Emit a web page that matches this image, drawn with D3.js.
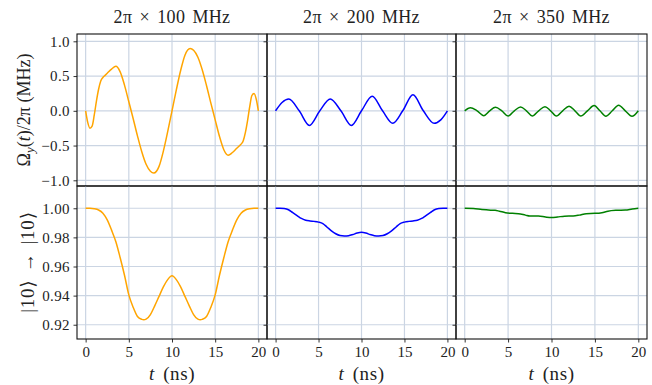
<!DOCTYPE html>
<html><head><meta charset="utf-8">
<script src="https://cdn.jsdelivr.net/npm/d3@7"></script>
<style>body{margin:0;background:#fff}svg{display:block}</style>
</head><body>
<script>
// ---------------- data ----------------
const columnTitles = ["100", "200", "350"];          // drive frequency 2π × … MHz
const timeTicks = [0, 5, 10, 15, 20];
const omegaTicks = [-1.0, -0.5, 0.0, 0.5, 1.0];
const fidelityTicks = [0.92, 0.94, 0.96, 0.98, 1.00];

// Ω_y(t)/2π (MHz), 2π×100 MHz
const omega100T = [0,0.25,0.5,0.75,1,1.25,1.5,1.75,2,2.25,2.5,3,3.5,4,4.5,5,5.5,6,6.5,7,7.5,7.9,8.5,9,9.5,10,
  10.5,11,11.5,12.1,12.5,13,13.5,14,14.5,15,15.5,16,16.5,17,17.5,17.75,18,18.25,18.5,18.75,19,19.25,19.5,19.75,20];
const omega100V = [0,-0.17,-0.25,-0.22,-0.06,0.14,0.31,0.43,0.48,0.51,0.54,0.60,0.64,0.56,0.37,0.13,-0.11,-0.36,-0.59,-0.77,-0.87,-0.895,-0.80,-0.58,-0.30,0,
  0.30,0.58,0.80,0.895,0.87,0.77,0.59,0.36,0.11,-0.13,-0.37,-0.56,-0.64,-0.60,-0.54,-0.51,-0.48,-0.43,-0.31,-0.14,0.06,0.22,0.25,0.17,0];

// 2π×200 MHz
const omega200T = [0,0.75,1.54,2.75,3.93,5.15,6.36,7.6,8.82,10.0,11.25,12.45,13.64,14.8,15.99,17.2,18.46,19.23,20];
const omega200V = [0,0.12,0.17,0,-0.21,0,0.17,0,-0.21,0,0.21,0,-0.18,0,0.23,0,-0.18,-0.13,0];

// 2π×350 MHz
const omega350T = [0,0.66,1.43,2.2,2.88,3.55,4.28,5.0,5.72,6.44,7.11,7.78,8.52,9.25,9.9,10.56,11.29,12.02,12.7,13.37,14.14,14.91,15.58,16.26,17.0,17.73,18.5,19.27,20];
const omega350V = [0,0.045,0,-0.07,0,0.05,0,-0.075,0,0.055,0,-0.075,0,0.06,0,-0.075,0,0.065,0,-0.075,0,0.075,0,-0.078,0,0.08,0,-0.08,0];

// |10> -> |10> population
const fid100T = [0,0.5,1,1.5,2,2.5,3,3.5,4,4.5,5,5.5,6,6.5,6.73,7,7.5,8,8.5,9,9.5,10,
  10.5,11,11.5,12,12.5,13,13.27,13.5,14,14.5,15,15.5,16,16.5,17,17.5,18,18.5,19,19.5,20];
const fid100V = [1.0,1.0,0.9997,0.9988,0.9966,0.992,0.985,0.977,0.966,0.954,0.9405,0.932,0.9257,0.9237,0.9234,0.9238,0.927,0.933,0.9395,0.946,0.951,0.9536,
  0.951,0.946,0.9395,0.933,0.927,0.9238,0.9234,0.9237,0.9257,0.932,0.9405,0.954,0.966,0.977,0.985,0.992,0.9966,0.9988,0.9997,1.0,1.0];

const fid200T = [0,0.5,1,1.5,2,2.5,3,3.5,4,4.5,5,5.5,6,6.5,7,7.5,8,8.5,9,9.5,10,
  10.5,11,11.5,12,12.5,13,13.5,14,14.5,15,15.5,16,16.5,17,17.5,18,18.5,19,19.5,20];
const fid200V = [1.0,1.0,0.9998,0.999,0.997,0.995,0.993,0.9918,0.9913,0.991,0.9905,0.9895,0.987,0.9845,0.9825,0.9813,0.981,0.9812,0.982,0.983,0.9835,
  0.983,0.982,0.9812,0.981,0.9813,0.9825,0.9845,0.987,0.9895,0.9905,0.991,0.9913,0.9918,0.993,0.995,0.997,0.999,0.9998,1.0,1.0];

const fid350T = [0,1,2,3,3.5,4,4.7,5.5,6.2,7,7.5,8.5,9.3,10,10.7,11.5,12.5,13.2,14,15,15.8,16.5,17.5,18.5,19.3,20];
const fid350V = [1.0,0.9998,0.9991,0.9987,0.9986,0.998,0.997,0.9965,0.9963,0.9953,0.9947,0.9947,0.994,0.9936,0.994,0.9946,0.9947,0.9953,0.9963,0.9965,0.997,0.998,0.9986,0.9988,0.9995,1.0];

const topSeries = [[omega100T, omega100V],[omega200T, omega200V],[omega350T, omega350V]];
const botSeries = [[fid100T, fid100V],[fid200T, fid200V],[fid350T, fid350V]];

// ---------------- layout / style ----------------
const W = 652, H = 385;
const colX = [[77,267],[267,456],[456,647]];
const topRow = [34,186], botRow = [186,339];
const lineColors = ["#ffa500","#0000ff","#008000"];
const gridColor = "#cbd5e3";
const font = "'Liberation Serif', 'DejaVu Serif', serif";

const svg = d3.select("body").append("svg").attr("width", W).attr("height", H)
  .style("font-family", font);

const yTop = d3.scaleLinear().domain([-1.082, 1.105]).range([topRow[1], topRow[0]]);
const yBot = d3.scaleLinear().domain([0.9102, 1.0153]).range([botRow[1], botRow[0]]);

function fmtMinus(s){ return s.replace("-", "\u2212"); }

colX.forEach((cx, c) => {
  const x = d3.scaleLinear().domain([-1, 21]).range(cx);
  [[yTop, topRow, omegaTicks, topSeries[c], d3.format(".1f")],
   [yBot, botRow, fidelityTicks, botSeries[c], d3.format(".2f")]].forEach(([y, row, yt, ser, fmt], r) => {
    const g = svg.append("g");
    // grid
    g.selectAll(".gx").data(timeTicks).join("line")
      .attr("x1", d => x(d)).attr("x2", d => x(d)).attr("y1", row[0]).attr("y2", row[1])
      .attr("stroke", gridColor).attr("stroke-width", 1.2);
    g.selectAll(".gy").data(yt).join("line")
      .attr("x1", cx[0]).attr("x2", cx[1]).attr("y1", d => y(d)).attr("y2", d => y(d))
      .attr("stroke", gridColor).attr("stroke-width", 1.2);
    // curve
    const pts = ser[0].map((t, i) => [t, ser[1][i]]);
    g.append("path").datum(pts)
      .attr("d", d3.line().x(d => x(d[0])).y(d => y(d[1])).curve(d3.curveMonotoneX))
      .attr("fill", "none").attr("stroke", lineColors[c]).attr("stroke-width", 1.5);
    // y axis ticks (outward, left)
    const ya = d3.axisLeft(y).tickValues(yt).tickSize(3.5).tickPadding(3.5)
      .tickFormat(c === 0 ? (d => fmtMinus(fmt(d))) : "");
    const yg = svg.append("g").attr("transform", `translate(${cx[0]},0)`).call(ya);
    yg.select(".domain").remove();
    yg.selectAll(".tick line").attr("stroke", "#333");
    yg.selectAll("text").attr("font-size", 15).attr("letter-spacing", 0.4).attr("fill", "#222").style("font-family", font);
    // x axis on bottom row
    if (r === 1) {
      const xa = d3.axisBottom(x).tickValues(timeTicks).tickSize(3.5).tickPadding(4);
      const xg = svg.append("g").attr("transform", `translate(0,${row[1]})`).call(xa);
      xg.select(".domain").remove();
      xg.selectAll(".tick line").attr("stroke", "#333");
      xg.selectAll("text").attr("font-size", 15).attr("fill", "#222").style("font-family", font);
    }
    // frame
    svg.append("rect").attr("x", cx[0]).attr("y", row[0])
      .attr("width", cx[1]-cx[0]).attr("height", row[1]-row[0])
      .attr("fill", "none").attr("stroke", "#111").attr("stroke-width", 1.1);
  });
  // column title
  svg.append("text").attr("x", (cx[0]+cx[1])/2).attr("y", 23).attr("text-anchor", "middle")
    .attr("font-size", 18).attr("word-spacing", 2.5).attr("letter-spacing", 0.3).attr("fill", "#222")
    .text(`2\u03c0 \u00d7 ${columnTitles[c]} MHz`);
  // x label
  const xl = svg.append("text").attr("x", (cx[0]+cx[1])/2).attr("y", 380).attr("text-anchor", "middle")
    .attr("font-size", 19).attr("letter-spacing", 0.6).attr("word-spacing", 3).attr("fill", "#222");
  xl.append("tspan").attr("font-style", "italic").text("t");
  xl.append("tspan").text(" (ns)");
});

// y labels
const yl1 = svg.append("text").attr("transform", "translate(30,110) rotate(-90)")
  .attr("text-anchor", "middle").attr("font-size", 18).attr("fill", "#222");
yl1.append("tspan").text("\u03a9");
yl1.append("tspan").attr("font-style", "italic").attr("font-size", 13).attr("dy", 4).text("y");
yl1.append("tspan").attr("dy", -4).text("(");
yl1.append("tspan").attr("font-style", "italic").text("t");
yl1.append("tspan").text(")/2\u03c0  (MHz)");

svg.append("text").attr("transform", "translate(34,262) rotate(-90)")
  .attr("text-anchor", "middle").attr("font-size", 19).attr("letter-spacing", 0.8).attr("word-spacing", 2).attr("fill", "#222")
  .text("|10\u27e9 \u2192 |10\u27e9");
</script>
</body></html>
